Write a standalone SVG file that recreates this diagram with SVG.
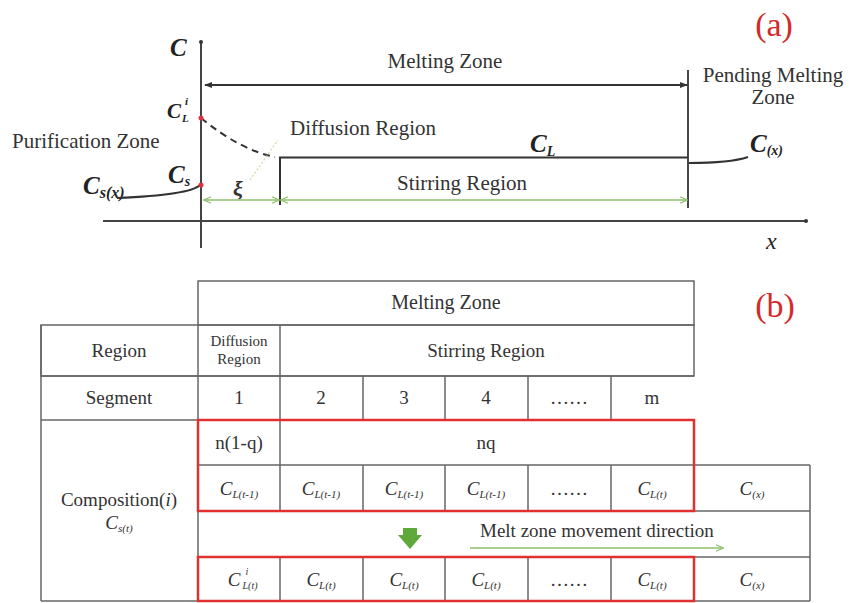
<svg xmlns="http://www.w3.org/2000/svg" width="849" height="603" viewBox="0 0 849 603" font-family="'Liberation Serif', 'Times New Roman', serif">
<style>
text{font-family:'Liberation Serif','Times New Roman',serif;fill:#333}
.t{font-size:19px;text-anchor:middle}
.lbl{font-size:21px}
.ci{font-style:italic;font-weight:bold;font-size:25px;fill:#222}
.cs{font-style:italic;font-size:19px;text-anchor:middle;fill:#333}
.red{fill:#d42a2a;font-size:34px;text-anchor:middle}
.ax{stroke:#444;stroke-width:2;fill:none}
.blk{stroke:#333;stroke-width:2;fill:none}
.grn{stroke:#8cc06a;stroke-width:1.5;fill:none}
.grid{stroke:#666;stroke-width:1.5;fill:none}
.rbox{stroke:#e03030;stroke-width:2.5;fill:none}
</style>
<defs>
<marker id="ab" viewBox="0 0 10 10" refX="9" refY="5" markerWidth="8" markerHeight="8" orient="auto-start-reverse" markerUnits="userSpaceOnUse"><path d="M0,1 L10,5 L0,9 z" fill="#333"/></marker>
<marker id="ag" viewBox="0 0 10 10" refX="9" refY="5" markerWidth="8" markerHeight="8" orient="auto-start-reverse" markerUnits="userSpaceOnUse"><path d="M0,1 L10,5 L0,9" fill="none" stroke="#8cc06a" stroke-width="1.5"/></marker>
</defs>
<rect width="849" height="603" fill="#fff"/>

<!-- Part (a) -->
<g id="axes">
<line class="ax" x1="201" y1="42" x2="201" y2="248"/>
<circle cx="201" cy="42" r="2" fill="#333"/>
<line class="ax" x1="103" y1="221" x2="806" y2="221"/>
<circle cx="806" cy="221" r="2" fill="#333"/>
<text x="170" y="56" class="ci">C</text>
<text x="766" y="249" style="font-style:italic;font-size:24px;fill:#222">x</text>
</g>
<text x="774" y="36" class="red">(a)</text>

<g id="melting-zone-a">
<line class="blk" x1="688" y1="70" x2="688" y2="208" style="stroke-width:1.8"/>
<text x="445" y="68" class="lbl" text-anchor="middle">Melting Zone</text>
</g>
<g id="pending">
<text x="773" y="82" class="lbl" text-anchor="middle">Pending Melting</text>
<text x="773" y="104" class="lbl" text-anchor="middle">Zone</text>
<text x="750" y="152" class="ci">C<tspan style="font-size:14px" dy="3">(x)</tspan></text>
</g>
<g id="purification">
<text x="12" y="148" class="lbl">Purification Zone</text>
<text x="83" y="194" class="ci">C<tspan style="font-size:16px" dy="4">s(x)</tspan></text>
</g>
<g id="labels-a">
<text x="167" y="118" class="ci" style="font-size:21px">C</text>
<text x="185" y="105" class="ci" style="font-size:11px">i</text>
<text x="182" y="122" class="ci" style="font-size:11px">L</text>
<text x="168" y="183" class="ci">C<tspan style="font-size:14px" dy="3">s</tspan></text>
<text x="530" y="152" class="ci">C<tspan style="font-size:14px" dy="4">L</tspan></text>
<text x="290" y="135" class="lbl">Diffusion Region</text>
<text x="462" y="190" class="lbl" text-anchor="middle">Stirring Region</text>
<text x="233" y="196" style="font-style:italic;font-weight:bold;font-size:22px;fill:#333">ξ</text>
</g>
<g id="connectors">
<line class="blk" x1="205" y1="85" x2="687" y2="85" style="stroke-width:1.8" marker-start="url(#ab)" marker-end="url(#ab)"/>
<path class="blk" d="M280,205 L280,157.5 L688,157.5"/>
<path class="blk" d="M201,118 Q240,150 275,157" stroke-dasharray="7,5"/>
<path class="blk" d="M117,198 Q190,195 200,185"/>
<path class="blk" d="M689,163 Q730,163 748,157"/>
<line x1="250" y1="180" x2="278" y2="140" stroke="#c8dca0" stroke-width="1.2" stroke-dasharray="2,2"/>
<line class="grn" x1="204" y1="200" x2="279" y2="200" marker-start="url(#ag)" marker-end="url(#ag)"/>
<line class="grn" x1="281" y1="200" x2="687" y2="200" marker-start="url(#ag)" marker-end="url(#ag)"/>
<circle cx="201" cy="118" r="2.5" fill="#e03040"/>
<circle cx="201" cy="185" r="2.5" fill="#e03040"/>
</g>

<!-- Part (b) -->
<text x="775" y="317" class="red">(b)</text>
<g id="table">
<rect class="grid" x="198" y="281" width="496" height="44"/>
<rect class="grid" x="41" y="325" width="653" height="51"/>
<line class="grid" x1="41" y1="376" x2="694" y2="376"/>
<line class="grid" x1="41" y1="420" x2="694" y2="420"/>
<line class="grid" x1="41" y1="325" x2="41" y2="601"/>
<line class="grid" x1="41" y1="601" x2="810" y2="601"/>
<line class="grid" x1="198" y1="325" x2="198" y2="601"/>
<line class="grid" x1="280" y1="325" x2="280" y2="465"/>
<line class="grid" x1="363" y1="376" x2="363" y2="420"/>
<line class="grid" x1="445" y1="376" x2="445" y2="420"/>
<line class="grid" x1="528" y1="376" x2="528" y2="420"/>
<line class="grid" x1="611" y1="376" x2="611" y2="420"/>
<line class="grid" x1="198" y1="465" x2="810" y2="465"/>
<line class="grid" x1="198" y1="511" x2="810" y2="511"/>
<line class="grid" x1="198" y1="557" x2="810" y2="557"/>
<line class="grid" x1="810" y1="465" x2="810" y2="601"/>
<line class="grid" x1="280" y1="465" x2="280" y2="511"/>
<line class="grid" x1="363" y1="465" x2="363" y2="511"/>
<line class="grid" x1="445" y1="465" x2="445" y2="511"/>
<line class="grid" x1="528" y1="465" x2="528" y2="511"/>
<line class="grid" x1="611" y1="465" x2="611" y2="511"/>
<line class="grid" x1="280" y1="557" x2="280" y2="601"/>
<line class="grid" x1="363" y1="557" x2="363" y2="601"/>
<line class="grid" x1="445" y1="557" x2="445" y2="601"/>
<line class="grid" x1="528" y1="557" x2="528" y2="601"/>
<line class="grid" x1="611" y1="557" x2="611" y2="601"/>
<rect class="rbox" x="198" y="420" width="496" height="91"/>
<rect class="rbox" x="198" y="557" width="496" height="44"/>

<text x="446" y="309" class="t" style="font-size:20px">Melting Zone</text>
<text x="119" y="357" class="t">Region</text>
<text x="239" y="346" class="t" style="font-size:15px">Diffusion</text>
<text x="239" y="364" class="t" style="font-size:15px">Region</text>
<text x="486" y="357" class="t">Stirring Region</text>
<text x="119" y="404" class="t">Segment</text>
<text x="239" y="404" class="t">1</text>
<text x="321" y="404" class="t">2</text>
<text x="404" y="404" class="t">3</text>
<text x="486" y="404" class="t">4</text>
<text x="569" y="404" class="t">……</text>
<text x="652" y="404" class="t">m</text>
<text x="239" y="449" class="t">n(1-q)</text>
<text x="486" y="449" class="t">nq</text>
<text x="119" y="506" class="t">Composition(<tspan font-style="italic">i</tspan>)</text>
<text x="119" y="529" class="cs" style="font-size:19px">C<tspan style="font-size:11px" dy="3">s(t)</tspan></text>

<text x="239" y="495" class="cs">C<tspan style="font-size:11px" dy="3">L(t-1)</tspan></text>
<text x="321" y="495" class="cs">C<tspan style="font-size:11px" dy="3">L(t-1)</tspan></text>
<text x="404" y="495" class="cs">C<tspan style="font-size:11px" dy="3">L(t-1)</tspan></text>
<text x="486" y="495" class="cs">C<tspan style="font-size:11px" dy="3">L(t-1)</tspan></text>
<text x="569" y="495" class="t">……</text>
<text x="652" y="495" class="cs">C<tspan style="font-size:11px" dy="3">L(t)</tspan></text>
<text x="752" y="495" class="cs">C<tspan style="font-size:11px" dy="3">(x)</tspan></text>

<text x="234" y="586" class="cs">C</text>
<text x="247" y="575" class="cs" style="font-size:10px">i</text>
<text x="250" y="589" class="cs" style="font-size:10px">L(t)</text>
<text x="321" y="586" class="cs">C<tspan style="font-size:11px" dy="3">L(t)</tspan></text>
<text x="404" y="586" class="cs">C<tspan style="font-size:11px" dy="3">L(t)</tspan></text>
<text x="486" y="586" class="cs">C<tspan style="font-size:11px" dy="3">L(t)</tspan></text>
<text x="569" y="586" class="t">……</text>
<text x="652" y="586" class="cs">C<tspan style="font-size:11px" dy="3">L(t)</tspan></text>
<text x="752" y="586" class="cs">C<tspan style="font-size:11px" dy="3">(x)</tspan></text>
</g>
<g id="movement">
<path d="M403,528 L417,528 L417,535 L422,535 L410,549 L398,535 L403,535 z" fill="#5fa83a"/>
<text x="480" y="537" style="font-size:19px">Melt zone movement direction</text>
<line class="grn" x1="470" y1="548" x2="723" y2="548" marker-end="url(#ag)"/>
</g>
</svg>
